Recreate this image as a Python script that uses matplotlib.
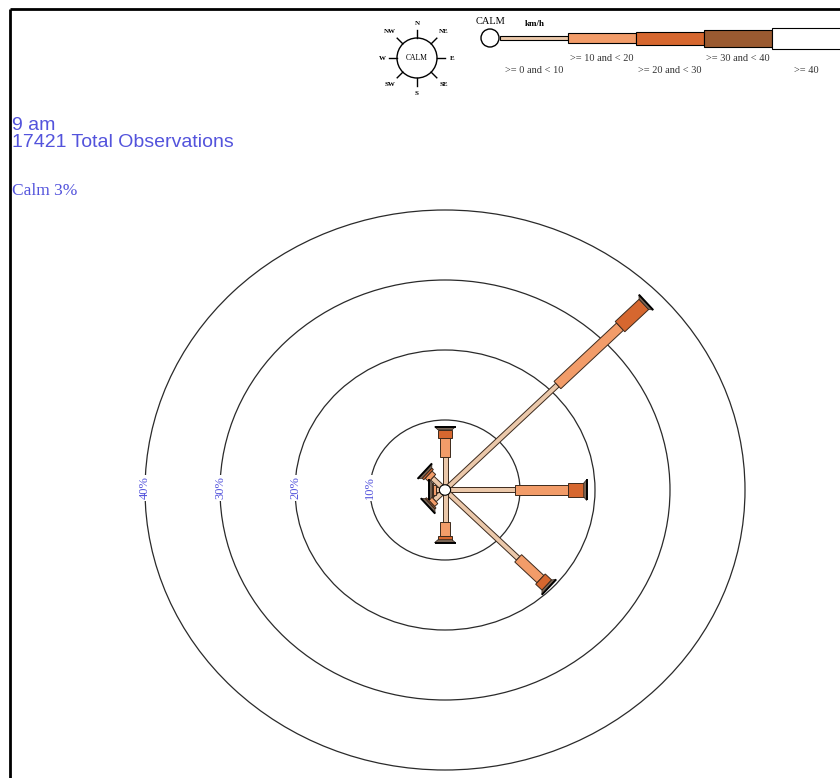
import numpy as np
import matplotlib.pyplot as plt
from matplotlib.patches import Polygon, Circle, Rectangle

# ---- data ----
directions = ["N", "NE", "E", "SE", "S", "SW", "W", "NW"]
dir_angles = [0, 45, 90, 135, 180, 225, 270, 315]
speed_bins = [">= 0 and < 10", ">= 10 and < 20", ">= 20 and < 30", ">= 30 and < 40", ">= 40"]
# percent of observations per direction, for each speed class
freq_0_10 = [4.7, 21.2, 9.3, 13.8, 4.6, 2.0, 1.2, 2.4]
freq_10_20 = [2.7, 11.8, 7.1, 4.2, 2.0, 0.6, 0.35, 0.7]
freq_20_30 = [1.2, 4.5, 2.1, 1.2, 0.5, 0.2, 0.15, 0.3]
freq_30_40 = [0, 0, 0, 0, 0, 0, 0, 0]
freq_40_up = [0, 0, 0, 0, 0, 0, 0, 0]
ring_levels = [10, 20, 30, 40]
calm_pct = 3
total_obs = 17421
hour_label = "9 am"

bin_colors = ["#ebc8aa", "#f29c69", "#d6672f", "#9a5a31", "#ffffff"]
bin_widths = [5, 10, 14, 17, 21]   # px
edge_col = "#3d2a1d"
blue = "#5353dc"
serif = ["Liberation Serif", "DejaVu Serif"]
sans = ["Liberation Sans", "DejaVu Sans"]

SX, SY = 7.5, 7.0     # px per percent (the rose is slightly stretched sideways)
CX, CY = 445, 490     # centre of the rose in px (from top-left)
W, H = 840, 778

fig = plt.figure(figsize=(W / 100, H / 100), dpi=100)
ax = fig.add_axes([0, 0, 1, 1])
ax.set_xlim(-CX / SX, (W - CX) / SX)
ax.set_ylim(-(H - CY) / SY, CY / SY)
ax.axis("off")

# rings
for r in ring_levels:
    ax.add_patch(Circle((0, 0), r, fill=False, ec="#2a2a2a", lw=0.9, zorder=1))
    ax.text(-r, 0.3, f"{r}%", rotation=90, ha="center", va="center",
            fontsize=9, color=blue, family=serif, zorder=2,
            bbox=dict(boxstyle="square,pad=0.15", fc="white", ec="none"))


def band(theta, r0, r1, w0, w1):
    d = np.array([SX * np.sin(theta), SY * np.cos(theta)])
    u = d / np.hypot(*d)
    n = np.array([-u[1], u[0]])
    p0, p1 = r0 * d, r1 * d
    pts = [p0 + n * w0 / 2, p1 + n * w1 / 2, p1 - n * w1 / 2, p0 - n * w0 / 2]
    return [(p[0] / SX, p[1] / SY) for p in pts], np.hypot(*d)


table = [freq_0_10, freq_10_20, freq_20_30, freq_30_40, freq_40_up]
for i, ang in enumerate(dir_angles):
    theta = np.radians(ang)
    r = 0.0
    last_w = bin_widths[0]
    for k in range(len(speed_bins)):
        v = table[k][i]
        if v <= 0:
            continue
        pts, _ = band(theta, r, r + v, bin_widths[k], bin_widths[k])
        ax.add_patch(Polygon(pts, closed=True, fc=bin_colors[k], ec=edge_col, lw=0.7, zorder=3))
        r += v
        last_w = bin_widths[k]
    # flared end cap
    _, dlen = band(theta, 0, 1, 1, 1)
    pts, _ = band(theta, r, r + 3 / dlen, last_w, 21)
    ax.add_patch(Polygon(pts, closed=True, fc="#7a6656", ec="#2a2018", lw=0.5, zorder=4))
    ax.plot([pts[1][0], pts[2][0]], [pts[1][1], pts[2][1]], color="black", lw=1.4,
            solid_capstyle="butt", zorder=5)

ax.add_patch(Circle((0, 0), 0.75, fc="white", ec="black", lw=0.8, zorder=6))

# ---- overlay in pixel units for the texts, legend and frame ----
ov = fig.add_axes([0, 0, 1, 1])
ov.set_xlim(0, W)
ov.set_ylim(H, 0)
ov.axis("off")
ov.patch.set_alpha(0)

ov.plot([10, W], [9, 9], color="black", lw=2.0, solid_capstyle="butt")
ov.plot([10, 10], [9, H], color="black", lw=2.0, solid_capstyle="butt")

ov.text(12, 117, hour_label, fontsize=14, color=blue, family=sans, va="top")
ov.text(12, 134, f"{total_obs} Total Observations", fontsize=14, color=blue, family=sans, va="top")
ov.text(12, 183, f"Calm {calm_pct}%", fontsize=12.5, color=blue, family=serif, va="top")

# compass key
kx, ky, kr = 417, 58, 20
ov.add_patch(Circle((kx, ky), kr, fc="white", ec="black", lw=1.0))
ov.text(kx, ky, "CALM", fontsize=5.5, family=serif, ha="center", va="center")
for name, ang in zip(directions, dir_angles):
    a = np.radians(ang)
    ov.plot([kx + kr * np.sin(a), kx + (kr + 8) * np.sin(a)],
            [ky - kr * np.cos(a), ky - (kr + 8) * np.cos(a)], color="black", lw=1.0)
    rr = 35 if len(name) == 1 else 38
    ov.text(kx + rr * np.sin(a), ky - rr * np.cos(a), name, fontsize=5,
            family=serif, weight="bold", ha="center", va="center")

# speed key
ov.text(490, 21, "CALM", fontsize=7.5, family=serif, ha="center", va="center")
ov.add_patch(Circle((490, 38), 9, fc="white", ec="black", lw=1.0))
ov.text(535, 24, "km/h", fontsize=6.5, family=serif, weight="bold", ha="center", va="center")
seg_x = 500
seg_len = 68
for k, lab in enumerate(speed_bins):
    h = [4, 10, 13, 17, 21][k]
    ov.add_patch(Rectangle((seg_x, 38 - h / 2), seg_len + (6 if k == 4 else 0), h,
                           fc=bin_colors[k], ec="black", lw=0.8))
    ov.text(seg_x + seg_len / 2, 70 if k % 2 == 0 else 58, lab, fontsize=7.5,
            family=serif, color="#333333", ha="center", va="center")
    seg_x += seg_len

fig.savefig("out.png", dpi=100)
